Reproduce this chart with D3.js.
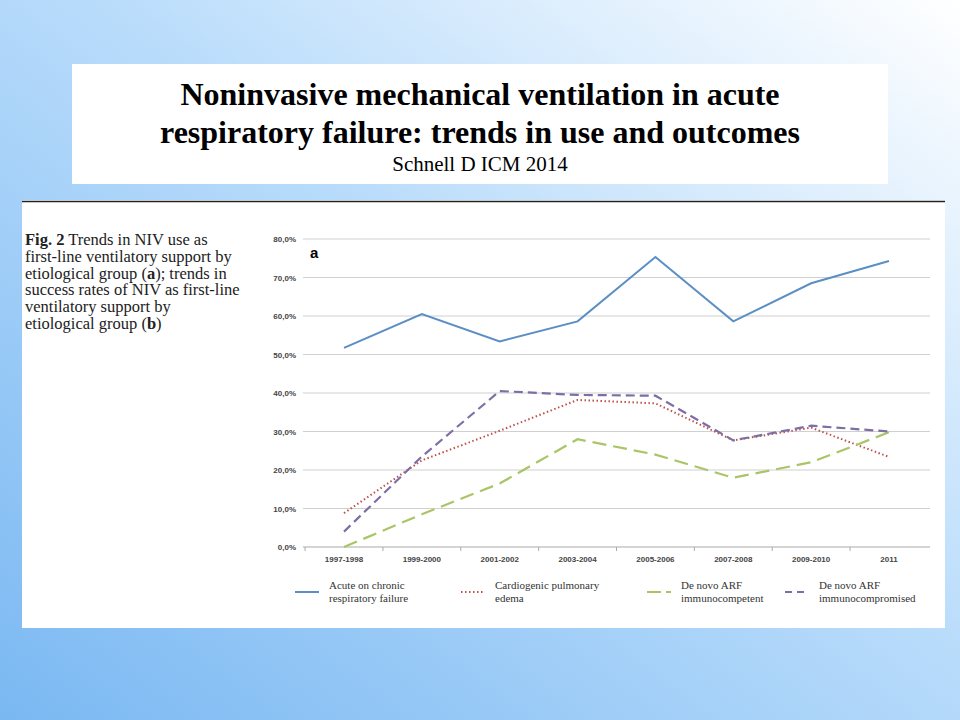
<!DOCTYPE html><html><head><meta charset="utf-8"><script src="https://cdn.jsdelivr.net/npm/d3@7"></script>
<style>body{margin:0;}svg{display:block;}</style></head><body><svg id="c" width="960" height="720"></svg>
<script>
const categories=["1997-1998","1999-2000","2001-2002","2003-2004","2005-2006","2007-2008","2009-2010","2011"];
const acute=[51.7,60.5,53.4,58.6,75.3,58.6,68.5,74.3];
const cardio=[8.8,22.5,30.2,38.2,37.3,27.7,31.0,23.4];
const competent=[0,8.5,16.5,28.0,24.0,18.0,22.0,29.8];
const compromised=[4.0,23.5,40.5,39.5,39.3,27.7,31.5,30.0];
const yTicks=[0,10,20,30,40,50,60,70,80];
const seriesNames=[["Acute on chronic","respiratory failure"],["Cardiogenic pulmonary","edema"],["De novo ARF","immunocompetent"],["De novo ARF","immunocompromised"]];
const svg=d3.select("#c");
const defs=svg.append("defs");
const g=defs.append("linearGradient").attr("id","bg").attr("x1","0").attr("y1","1").attr("x2","1").attr("y2","0");
g.append("stop").attr("offset","0").attr("stop-color","#7ab8f2");
g.append("stop").attr("offset","0.55").attr("stop-color","#b9dcfb");
g.append("stop").attr("offset","1").attr("stop-color","#ffffff");
svg.append("rect").attr("width",960).attr("height",720).attr("fill","url(#bg)");
svg.append("rect").attr("x",72).attr("y",64).attr("width",816).attr("height",120).attr("fill","#fff");
const tt=svg.append("text").attr("text-anchor","middle").attr("font-family","Liberation Serif").attr("font-weight","bold").attr("font-size",32);
tt.append("tspan").attr("x",480).attr("y",105).text("Noninvasive mechanical ventilation in acute");
tt.append("tspan").attr("x",480).attr("y",143).text("respiratory failure: trends in use and outcomes");
svg.append("text").attr("x",480).attr("y",171).attr("text-anchor","middle").attr("font-family","Liberation Serif").attr("font-size",21).text("Schnell D ICM 2014");
svg.append("rect").attr("x",22).attr("y",200).attr("width",923).attr("height",428).attr("fill","#fff");
svg.append("line").attr("x1",22).attr("x2",945).attr("y1",201.5).attr("y2",201.5).attr("stroke","#222").attr("stroke-width",1.5);
const cap=svg.append("text").attr("font-family","Liberation Serif").attr("font-size",16.5).attr("fill","#222");
const capLines=[[["Fig. 2","bold"],[" Trends in NIV use as",""]],[["first-line ventilatory support by",""]],[["etiological group (",""],["a","bold"],["); trends in",""]],[["success rates of NIV as first-line",""]],[["ventilatory support by",""]],[["etiological group (",""],["b","bold"],[")",""]]];
capLines.forEach((l,i)=>{l.forEach((p,j)=>{const s=cap.append("tspan").text(p[0]).attr("font-weight",p[1]||"normal");if(j==0)s.attr("x",25).attr("y",245+i*16.8);});});
const x=d3.scalePoint().domain(categories).range([344,889]);
const y=d3.scaleLinear().domain([0,80]).range([547,239]);
yTicks.forEach(t=>{svg.append("line").attr("x1",303).attr("x2",930).attr("y1",y(t)).attr("y2",y(t)).attr("stroke",t==0?"#aaa":"#d0d0d0").attr("stroke-width",1.2);
svg.append("text").attr("x",296).attr("y",y(t)+3).attr("text-anchor","end").attr("font-family","Liberation Sans Narrow, Liberation Sans").attr("font-size",8).attr("font-weight","bold").attr("fill","#444").text(t.toFixed(1).replace(".",",")+"%");});
const step=x.step();
categories.forEach((c,i)=>{svg.append("line").attr("x1",x(c)-step/2).attr("x2",x(c)-step/2).attr("y1",547).attr("y2",551).attr("stroke","#aaa");
svg.append("text").attr("x",x(c)).attr("y",562).attr("text-anchor","middle").attr("font-family","Liberation Sans Narrow, Liberation Sans").attr("font-size",8).attr("font-weight","bold").attr("fill","#444").text(c);});
svg.append("text").attr("x",310).attr("y",258).attr("font-family","Liberation Sans").attr("font-weight","bold").attr("font-size",15).text("a");
const styles=[{c:"#5b8fc4",d:null,w:2},{c:"#c0504d",d:"1.5,2.5",w:2},{c:"#a9c567",d:"14,7",w:2.2},{c:"#7d6ea6",d:"9,5",w:2.2}];
const data=[acute,cardio,competent,compromised];
const line=d3.line().x((d,i)=>x(categories[i])).y(d=>y(d));
data.forEach((s,k)=>{svg.append("path").attr("d",line(s)).attr("fill","none").attr("stroke",styles[k].c).attr("stroke-width",styles[k].w).attr("stroke-dasharray",styles[k].d);});
const lx=[295,461,647,785];
seriesNames.forEach((n,k)=>{svg.append("line").attr("x1",lx[k]).attr("x2",lx[k]+24).attr("y1",592).attr("y2",592).attr("stroke",styles[k].c).attr("stroke-width",2).attr("stroke-dasharray",k==2?"14,5":k==3?"7,5":styles[k].d);
const t=svg.append("text").attr("font-family","Liberation Serif").attr("font-size",11).attr("fill","#333");
n.forEach((s,i)=>t.append("tspan").attr("x",lx[k]+34).attr("y",589+i*13).text(s));});
</script></body></html>
